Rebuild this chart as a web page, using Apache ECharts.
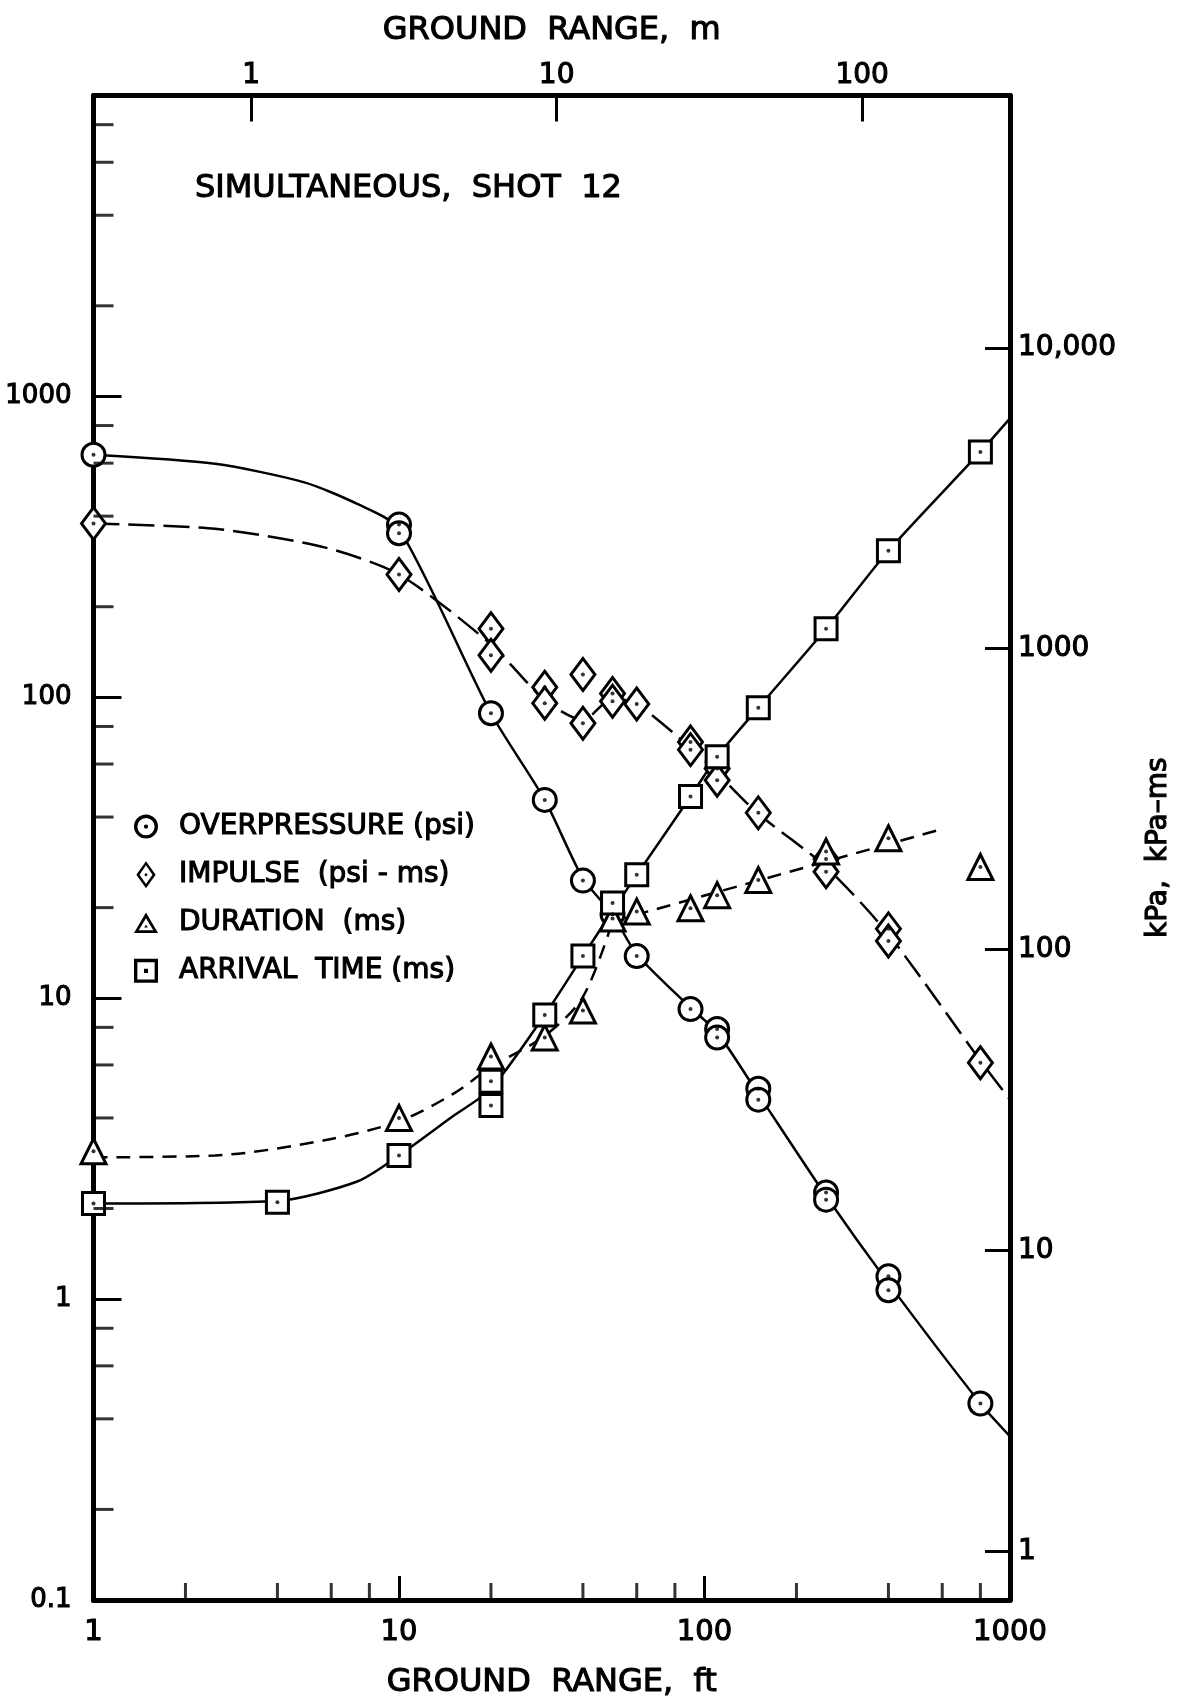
<!DOCTYPE html>
<html>
<head>
<meta charset="utf-8">
<title>Simultaneous, Shot 12</title>
<script src="https://cdn.jsdelivr.net/npm/echarts@6.0.0/dist/echarts.min.js"></script>
<style>
  html, body { margin: 0; padding: 0; background: #fff; }
  #chart { width: 1177px; height: 1700px; }
</style>
</head>
<body>
<div id="chart"></div>
<script>
var opX = [1, 10, 10, 20, 30, 40, 50, 60, 90, 110, 110, 150, 150, 250, 250, 400, 400, 800];
var opY = [640, 375, 351, 88.5, 45.6, 24.6, 19, 13.8, 9.2, 7.9, 7.4, 5.0, 4.6, 2.26, 2.14, 1.19, 1.07, 0.45];

var impX = [1, 10, 20, 20, 30, 30, 40, 40, 50, 50, 60, 90, 90, 110, 110, 150, 250, 250, 400, 400, 800];
var impY = [378, 256, 169, 138, 108, 95.5, 119, 82, 103, 97, 95, 71, 67, 58, 53, 41.3, 29, 26.3, 17.0, 15.5, 6.1];

var durX = [1, 10, 20, 30, 40, 50, 60, 90, 110, 150, 250, 400, 800];
var durY = [3.1, 4.0, 6.4, 7.4, 9.1, 18.4, 19.4, 19.9, 22.0, 24.7, 30.7, 34, 27.3];

var arrX = [1, 4, 10, 20, 20, 30, 40, 50, 60, 90, 110, 150, 250, 400, 800];
var arrY = [2.08, 2.1, 3.0, 5.3, 4.4, 8.8, 13.8, 20.7, 25.7, 46.8, 63.5, 92.3, 169, 307, 654];

// fitted curves as drawn on the original
var opCurveX = [1, 2.5, 4.9, 7.3, 10, 20, 30, 40, 50, 60, 90, 110, 150, 250, 400, 800, 1000];
var opCurveY = [640, 597, 518, 439, 363, 88.5, 45.6, 25, 19, 14, 9.3, 7.7, 4.8, 2.2, 1.13, 0.45, 0.35];

var impCurveX = [1, 2.5, 5.7, 10, 20, 30, 40, 50, 60, 90, 110, 150, 250, 400, 800, 1000];
var impCurveY = [378, 363, 315, 256, 150, 98, 84, 99, 95, 68, 56, 41, 27.3, 16.3, 6.2, 4.6];

var durCurveX = [1, 2.5, 5.7, 10, 15, 20, 30, 40, 50];
var durCurveY = [2.96, 3.0, 3.37, 3.9, 4.8, 5.9, 7.5, 10.1, 18];
var durLineX = [50, 600];
var durLineY = [18, 36.5];

var arrCurveX = [1, 4, 7.3, 10, 15, 20, 30, 40, 50, 60, 90, 110, 150, 250, 400, 800, 1000];
var arrCurveY = [2.08, 2.12, 2.46, 3.0, 4.05, 5.0, 8.8, 13.8, 19.5, 25.7, 46.8, 63.5, 92.3, 169, 307, 654, 845];

// minor tick positions on the log paper
var minorFt = [2, 4, 6, 8, 20, 40, 60, 80, 200, 400, 600, 800];
var minorPsi = [0.2, 0.4, 0.6, 0.8, 2, 4, 6, 8, 20, 40, 60, 80, 200, 400, 600, 800, 2000, 4000, 6000, 8000];

var names = ['OVERPRESSURE (psi)', 'IMPULSE  (psi - ms)', 'DURATION  (ms)', 'ARRIVAL  TIME (ms)'];

var FT_TO_M = 0.3048;
var PSI_TO_KPA = 6.895;

// legend icons: outline with a hole and a centre dot
var legendIcons = [
	'path://M10,0A10,10,0,1,1,10,20A10,10,0,1,1,10,0ZM10,2.8A7.2,7.2,0,1,0,10,17.2A7.2,7.2,0,1,0,10,2.8ZM10,8.2A1.8,1.8,0,1,1,10,11.8A1.8,1.8,0,1,1,10,8.2Z',
	'path://M10,0L20,14L10,28L0,14ZM10,4.2L3.3,14L10,23.8L16.7,14ZM10,12.2L11.8,14L10,15.8L8.2,14Z',
	'path://M11,0L22,19L0,19ZM11,5.4L4.3,16.3L17.7,16.3ZM11,11.4L12.7,13.8L9.3,13.8Z',
	'path://M0,0L20,0L20,20L0,20ZM2.8,2.8L2.8,17.2L17.2,17.2L17.2,2.8ZM8.3,8.3L11.7,8.3L11.7,11.7L8.3,11.7Z'
];

function pairs(xs, ys) {
	var out = [];
	for (var i = 0; i < xs.length; i++) {
		out.push([xs[i], ys[i]]);
	}
	return out;
}

function isDecade(v) {
	var l = Math.log10(v);
	return Math.abs(l - Math.round(l)) < 1e-6;
}

var black = '#000';
var font = 'DejaVu Sans';

// a thin outline makes the type as heavy as the original lettering
function txt(size) {
	return { fontFamily: font, fontSize: size, color: black, textBorderColor: black, textBorderWidth: 1.1 };
}

function markerSeries(name, symbol, size, xs, ys) {
	return {
		name: name,
		type: 'scatter',
		symbol: symbol,
		symbolSize: size,
		data: pairs(xs, ys),
		itemStyle: { color: '#fff', borderColor: black, borderWidth: 3, opacity: 1 },
		z: 3
	};
}

function curveSeries(xs, ys, type, smooth) {
	return {
		type: 'line',
		data: pairs(xs, ys),
		symbol: 'none',
		showSymbol: false,
		smooth: smooth,
		lineStyle: { color: black, width: 2.5, type: type },
		silent: true,
		z: 2
	};
}

function axisLabel(size, margin, formatter) {
	var s = txt(size);
	s.margin = margin;
	s.formatter = formatter;
	return s;
}

var myChart = echarts.init(document.getElementById('chart'));

var legendData = [];
for (var i = 0; i < names.length; i++) {
	legendData.push({ name: names[i], icon: legendIcons[i], itemStyle: { color: black, borderWidth: 0 } });
}

var titleStyle = txt(32);
titleStyle.fontWeight = 'normal';

var legendText = txt(28);
legendText.padding = [0, 0, 0, 16];

var option = {
	animation: false,
	backgroundColor: '#fff',
	textStyle: { fontFamily: font, color: black },
	title: {
		text: 'SIMULTANEOUS,  SHOT  12',
		left: 190,
		top: 168,
		textStyle: titleStyle
	},
	legend: {
		orient: 'vertical',
		left: 129,
		top: 807,
		itemWidth: 24,
		itemHeight: 27,
		itemGap: 19,
		symbolKeepAspect: true,
		selectedMode: false,
		textStyle: legendText,
		data: legendData
	},
	grid: {
		left: 93.5,
		right: 167,
		top: 95.5,
		bottom: 100,
		containLabel: false,
		outerBoundsMode: 'none'
	},
	xAxis: [
		{
			type: 'log',
			logBase: 10,
			min: 1,
			max: 1000,
			position: 'bottom',
			axisLine: { show: true, onZero: false, lineStyle: { color: black, width: 5 } },
			axisTick: { show: true, inside: true, length: 24, lineStyle: { color: black, width: 3 } },
			minorTick: { show: false },
			splitLine: { show: false },
			axisLabel: axisLabel(29, 18, function (v) { return String(Math.round(v)); }),
			name: 'GROUND  RANGE,  ft',
			nameLocation: 'middle',
			nameGap: 67,
			nameTextStyle: txt(32)
		},
		{
			type: 'log',
			logBase: 10,
			min: 1 * FT_TO_M,
			max: 1000 * FT_TO_M,
			position: 'top',
			axisLine: { show: true, onZero: false, lineStyle: { color: black, width: 5 } },
			axisTick: { show: true, inside: true, length: 26, lineStyle: { color: black, width: 3 } },
			minorTick: { show: false },
			splitLine: { show: false },
			axisLabel: axisLabel(28, 6, function (v) { return isDecade(v) ? String(Math.round(v)) : ''; }),
			name: 'GROUND  RANGE,  m',
			nameLocation: 'middle',
			nameGap: 49,
			nameTextStyle: txt(32)
		}
	],
	yAxis: [
		{
			type: 'log',
			logBase: 10,
			min: 0.1,
			max: 10000,
			position: 'left',
			axisLine: { show: true, onZero: false, lineStyle: { color: black, width: 5 } },
			axisTick: { show: true, inside: true, length: 28, lineStyle: { color: black, width: 3 } },
			minorTick: { show: false },
			splitLine: { show: false },
			axisLabel: axisLabel(26, 22, function (v) { return v > 5000 ? '' : String(Number(v.toPrecision(3))); })
		},
		{
			type: 'log',
			logBase: 10,
			min: 0.1 * PSI_TO_KPA,
			max: 10000 * PSI_TO_KPA,
			position: 'right',
			axisLine: { show: true, onZero: false, lineStyle: { color: black, width: 5 } },
			axisTick: { show: true, inside: true, length: 25, lineStyle: { color: black, width: 3 } },
			minorTick: { show: false },
			splitLine: { show: false },
			axisLabel: axisLabel(28, 8, function (v) {
				if (!isDecade(v)) return '';
				return v >= 9999 ? '10,000' : String(Math.round(v));
			}),
			name: 'kPa,  kPa–ms',
			nameLocation: 'middle',
			nameRotate: 90,
			nameGap: 135,
			nameTextStyle: txt(28)
		}
	],
	series: [
		curveSeries(opCurveX, opCurveY, 'solid', 0.25),
		curveSeries(impCurveX, impCurveY, [26, 9], 0.25),
		curveSeries(durCurveX, durCurveY, [14, 9], 0.3),
		curveSeries(durLineX, durLineY, [14, 9], false),
		curveSeries(arrCurveX, arrCurveY, 'solid', 0.25),
		markerSeries(names[0], 'circle', 23, opX, opY),
		markerSeries(names[1], 'diamond', [24, 32], impX, impY),
		markerSeries(names[2], 'triangle', 25, durX, durY),
		markerSeries(names[3], 'rect', 22, arrX, arrY),
		{
			// centre dots of the markers
			type: 'scatter',
			symbol: 'circle',
			symbolSize: 4,
			silent: true,
			data: pairs(opX, opY).concat(pairs(impX, impY), pairs(durX, durY), pairs(arrX, arrY)),
			itemStyle: { color: black },
			z: 4
		},
		{
			// minor ticks on the bottom axis
			type: 'scatter',
			symbol: 'rect',
			symbolSize: [3, 17],
			symbolOffset: [0, -8.5],
			silent: true,
			clip: false,
			data: minorFt.map(function (v) { return [v, 0.1]; }),
			itemStyle: { color: black },
			z: 5
		},
		{
			// minor ticks on the left axis
			type: 'scatter',
			symbol: 'rect',
			symbolSize: [20, 3],
			symbolOffset: [10, 0],
			silent: true,
			clip: false,
			data: minorPsi.map(function (v) { return [1, v]; }),
			itemStyle: { color: black },
			z: 5
		}
	]
};

myChart.setOption(option);
</script>
</body>
</html>
